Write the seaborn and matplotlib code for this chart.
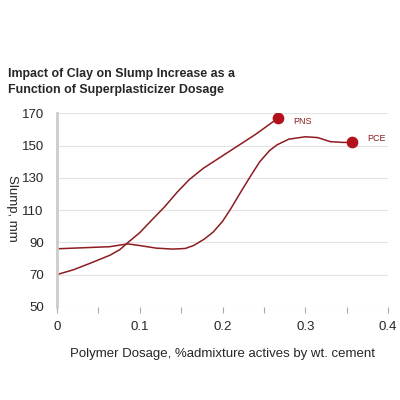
import pandas as pd
import matplotlib
matplotlib.use("Agg")
import matplotlib.pyplot as plt
import seaborn as sns

# values
pns_dose = [0, 0.02, 0.04, 0.064, 0.076, 0.086, 0.10, 0.113, 0.13, 0.145, 0.16, 0.177, 0.195, 0.213, 0.24, 0.267]
pns_slump = [70, 73, 77, 82, 85.5, 90, 96, 103, 112, 121, 129, 136, 142, 148, 157, 167]

pce_dose = [0, 0.03, 0.064, 0.076, 0.086, 0.10, 0.12, 0.14, 0.155, 0.165, 0.178, 0.189, 0.20, 0.209, 0.223, 0.235, 0.245, 0.257, 0.266,
            0.28, 0.30, 0.315, 0.33, 0.345, 0.357]
pce_slump = [86, 86.6, 87.3, 88.3, 89, 88, 86.4, 85.8, 86.2, 88, 92, 96.5, 103, 110, 122, 132, 140, 147, 150.5,
             154, 155.5, 155, 152.5, 152, 152]

end_labels = ["PNS", "PCE"]

line_color = "#8c1c20"
dot_color = "#b3121c"

sns.set_style("white")
plt.rcParams['font.family'] = ['Liberation Sans', 'DejaVu Sans']

fig = plt.figure(figsize=(4, 4), dpi=100)
ax = fig.add_axes([0.1425, 0.233, 0.8275, 0.4835])

df_pns = pd.DataFrame({"dose": pns_dose, "slump": pns_slump})
df_pce = pd.DataFrame({"dose": pce_dose, "slump": pce_slump})
sns.lineplot(data=df_pns, x="dose", y="slump", ax=ax, color=line_color, linewidth=1.1)
sns.lineplot(data=df_pce, x="dose", y="slump", ax=ax, color=line_color, linewidth=1.1)

# end markers and labels
offsets = [-2, 3]
for df, lab, dy in zip([df_pns, df_pce], end_labels, offsets):
    x_end, y_end = df["dose"].iloc[-1], df["slump"].iloc[-1]
    ax.scatter([x_end], [y_end], s=55, color=dot_color, zorder=5)
    ax.annotate(lab, (x_end, y_end), xytext=(11, dy), textcoords="offset points",
                fontsize=6.5, color=line_color, va="center")

ax.set_xlim(0, 0.4)
ax.set_ylim(50, 170)
ax.set_xticks([0, 0.1, 0.2, 0.3, 0.4])
ax.set_xticklabels(["0", "0.1", "0.2", "0.3", "0.4"])
ax.set_xticks([0.05, 0.15, 0.25, 0.35], minor=True)
ax.set_yticks([50, 70, 90, 110, 130, 150, 170])
ax.yaxis.grid(True, color="#e3e3e3", linewidth=0.8)
ax.set_axisbelow(True)
for sp in ["top", "right", "bottom"]:
    ax.spines[sp].set_visible(False)
ax.spines["left"].set_color("#cccccc")
ax.spines["left"].set_linewidth(2)
ax.tick_params(axis="x", which="both", bottom=True, length=4, width=0.8, color="#aaaaaa",
               labelsize=9.5, pad=6)
ax.tick_params(axis="y", left=False, labelsize=9.5, pad=6)

ax.set_xlabel("Polymer Dosage, %admixture actives by wt. cement", fontsize=9.5, labelpad=11)
ax.set_ylabel("Slump, mm", fontsize=9.5, rotation=270, va="center")
ax.yaxis.set_label_coords(-0.135, 0.51)

fig.text(0.02, 0.795, "Impact of Clay on Slump Increase as a\nFunction of Superplasticizer Dosage",
         fontsize=8.9, fontweight="bold", ha="left", va="center", linespacing=1.55)

fig.savefig("out.png", dpi=100)
